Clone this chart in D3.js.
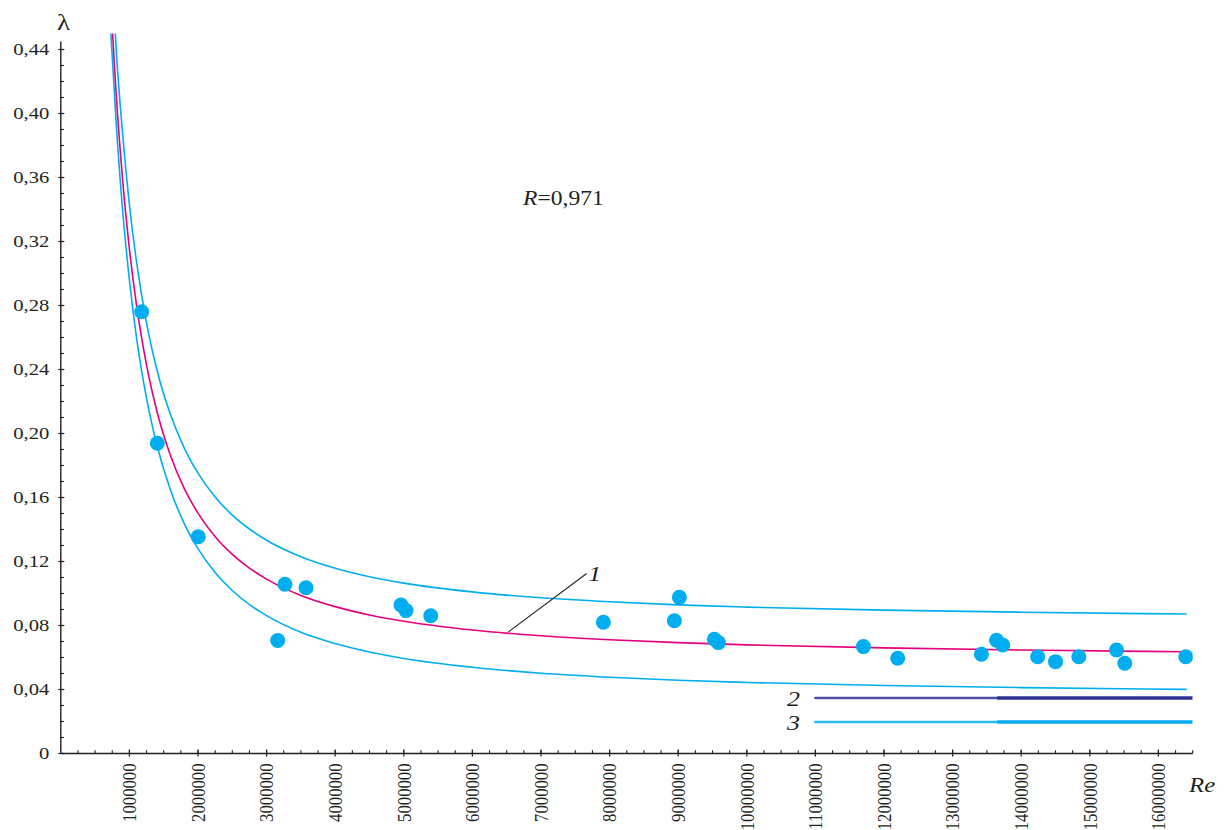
<!DOCTYPE html>
<html>
<head>
<meta charset="utf-8">
<script src="https://cdn.jsdelivr.net/npm/d3@7"></script>
<style>
  html, body { margin: 0; padding: 0; background: #fff; }
  svg { display: block; }
  text { font-family: "Liberation Serif", "Times New Roman", Tinos, serif; fill: #231F20; }
</style>
</head>
<body>
<svg id="chart" width="1226" height="830"></svg>
<script>
// ---------- data ----------
const xTickValues = [1e6,2e6,3e6,4e6,5e6,6e6,7e6,8e6,9e6,10e6,11e6,12e6,13e6,14e6,15e6,16e6];
const xTickLabels = ["1000000","2000000","3000000","4000000","5000000","6000000","7000000","8000000",
                     "9000000","10000000","11000000","12000000","13000000","14000000","15000000","16000000"];
const yTickValues = [0,0.04,0.08,0.12,0.16,0.20,0.24,0.28,0.32,0.36,0.40,0.44];
const yTickLabels = ["0","0,04","0,08","0,12","0,16","0,20","0,24","0,28","0,32","0,36","0,40","0,44"];

// measured points (Re, lambda)
const pointsRe = [1179000,1407000,2004000,3162000,3268000,3574000,4959000,5032000,5392000,
                  7909000,8944000,9017000,9527000,9586000,11700000,12200000,13420000,13640000,
                  13730000,14240000,14500000,14840000,15390000,15510000,16400000];
const pointsLambda = [0.2761,0.1939,0.1355,0.0706,0.1058,0.1036,0.0928,0.0893,0.0861,
                      0.0820,0.0830,0.0976,0.0714,0.0693,0.0668,0.0595,0.0620,0.0708,
                      0.0678,0.0605,0.0574,0.0605,0.0647,0.0564,0.0605];

// curve 1 (regression) and the two band curves
const curveRe = [800000,900000,1000000,1100000,1250000,1400000,1600000,1800000,2000000,2250000,
                 2500000,2750000,3000000,3500000,4000000,4500000,5000000,6000000,7000000,8000000,
                 9000000,10000000,12000000,14000000,16410000];
const curveMainStartRe = 755000;
const curveMainLambda = [0.4170,0.3592,0.3154,0.2813,0.2427,0.2141,0.1861,0.1656,0.1502,0.1355,
                         0.1245,0.1159,0.1090,0.0988,0.0918,0.0866,0.0827,0.0772,0.0736,0.0711,
                         0.0693,0.0679,0.0660,0.0647,0.0636];
const curveUpperStartRe = 795000;
const curveUpperLambda = [0.446,0.388,0.343,0.3085,0.269,0.240,0.2117,0.1909,0.1752,0.1603,
                          0.149,0.1403,0.1333,0.123,0.1158,0.1105,0.1065,0.101,0.0973,0.0948,
                          0.0929,0.0915,0.0896,0.0883,0.0872];
const curveLowerStartRe = 730000;
const curveLowerLambda = [0.399,0.340,0.296,0.261,0.222,0.193,0.1645,0.1437,0.128,0.1131,
                          0.1019,0.0931,0.0862,0.0758,0.0687,0.0634,0.0594,0.0539,0.0502,0.0477,
                          0.0458,0.0444,0.0425,0.0412,0.0401];
const curveTopLambda = 0.450;

// reference lines 2 and 3
const refLineLambda = [0.0347, 0.0197];
const refLineRe = [11000000, 16500000];
const refLineSplit = 13650000;
const refLineLabels = ["2", "3"];

// ---------- layout ----------
const svg = d3.select("#chart");
const SX = 1.18; // horizontal stretch of glyphs in the reference
const x = d3.scaleLinear().domain([0, 16.5e6]).range([60.8, 1192.7]);
const y = d3.scaleLinear().domain([0, 0.445]).range([753.5, 41.5]);
const ink = "#231F20";
const cyan = "#00AEEF";
const magenta = "#E6007E";
const navy = "#2E3192";

svg.append("rect").attr("width",1226).attr("height",830).attr("fill","#fff");

svg.append("defs").append("clipPath").attr("id","plotclip")
  .append("rect").attr("x",0).attr("y",0).attr("width",x(16.5e6)).attr("height",830);

// ---------- axes ----------
const axes = svg.append("g");
axes.append("line").attr("x1",x(0)).attr("x2",x(16.5e6)).attr("y1",y(0)).attr("y2",y(0))
  .attr("stroke",ink).attr("stroke-width",1.4);
axes.append("line").attr("x1",x(0)).attr("x2",x(0)).attr("y1",y(0)).attr("y2",y(0.445))
  .attr("stroke",ink).attr("stroke-width",1.4);

const xMinor = d3.range(250000, 16.5e6 + 1, 250000);
axes.selectAll(".xminor").data(xMinor).enter().append("line")
  .attr("x1",d=>x(d)).attr("x2",d=>x(d))
  .attr("y1",y(0)-3.2).attr("y2",y(0))
  .attr("stroke",ink).attr("stroke-width",1.1);
axes.selectAll(".xmajor").data(xTickValues).enter().append("line")
  .attr("x1",d=>x(d)).attr("x2",d=>x(d))
  .attr("y1",y(0)-4).attr("y2",y(0)+3)
  .attr("stroke",ink).attr("stroke-width",1.2);

const yMinor = d3.range(1, 45).map(i => i / 100);
axes.selectAll(".yminor").data(yMinor).enter().append("line")
  .attr("x1",x(0)).attr("x2",x(0)+3.2)
  .attr("y1",d=>y(d)).attr("y2",d=>y(d))
  .attr("stroke",ink).attr("stroke-width",1.1);
axes.selectAll(".ymajor").data(yTickValues).enter().append("line")
  .attr("x1",x(0)-2.5).attr("x2",x(0)+3.5)
  .attr("y1",d=>y(d)).attr("y2",d=>y(d))
  .attr("stroke",ink).attr("stroke-width",1.2);

axes.selectAll(".ylab").data(yTickValues).enter().append("text")
  .attr("transform",d=>`translate(${x(0)-11.5},${y(d)}) scale(${SX},1)`)
  .attr("text-anchor","end").attr("dy","0.33em")
  .attr("font-size",17.5)
  .text((d,i)=>yTickLabels[i]);

axes.selectAll(".xlab").data(xTickValues).enter().append("text")
  .attr("transform",d=>`translate(${x(d)},${763.5}) scale(${SX},1) rotate(-90)`)
  .attr("text-anchor","end").attr("dy","0.34em")
  .attr("font-size",16.7)
  .text((d,i)=>xTickLabels[i]);

svg.append("text").attr("transform",`translate(63.5,30) scale(${SX},1)`)
  .attr("text-anchor","middle").attr("font-size",23).text("λ");
svg.append("text").attr("transform",`translate(1189,792) scale(${SX},1)`)
  .attr("font-size",21).attr("font-style","italic").text("Re");

// ---------- curves ----------
const line = d3.line().x(d=>x(d[0])).y(d=>y(d[1])).curve(d3.curveMonotoneX);
const build = (startRe, lam) => [[startRe, curveTopLambda]].concat(curveRe.map((r,i)=>[r, lam[i]]));
svg.append("path").attr("d",line(build(curveUpperStartRe,curveUpperLambda)))
  .attr("fill","none").attr("stroke",cyan).attr("stroke-width",1.6);
svg.append("path").attr("d",line(build(curveLowerStartRe,curveLowerLambda)))
  .attr("fill","none").attr("stroke",cyan).attr("stroke-width",1.6);
svg.append("path").attr("d",line(build(curveMainStartRe,curveMainLambda)))
  .attr("fill","none").attr("stroke",magenta).attr("stroke-width",1.6);

// ---------- reference lines 2, 3 ----------
const refColors = [navy, cyan];
const refG = svg.append("g").attr("clip-path","url(#plotclip)");
refLineLambda.forEach((lv,i)=>{
  refG.append("line").attr("x1",x(refLineRe[0])).attr("x2",x(refLineSplit))
    .attr("y1",y(lv)).attr("y2",y(lv))
    .attr("stroke",refColors[i]).attr("stroke-width",2.6).attr("stroke-opacity",0.85)
    .attr("stroke-linecap","round");
  refG.append("line").attr("x1",x(refLineSplit)).attr("x2",x(refLineRe[1]))
    .attr("y1",y(lv)).attr("y2",y(lv))
    .attr("stroke",refColors[i]).attr("stroke-width",3.6);
  svg.append("text").attr("transform",`translate(${x(refLineRe[0])-22},${y(lv)+8}) scale(${SX},1)`)
    .attr("text-anchor","middle").attr("font-size",22).attr("font-style","italic")
    .text(refLineLabels[i]);
});

// ---------- points ----------
svg.append("g").attr("clip-path","url(#plotclip)")
  .selectAll("circle").data(pointsRe.map((r,i)=>[r, pointsLambda[i]])).enter().append("circle")
  .attr("cx",d=>x(d[0])).attr("cy",d=>y(d[1])).attr("r",7.5).attr("fill",cyan);

// ---------- annotations ----------
svg.append("line").attr("x1",x(6525000)).attr("y1",y(0.0760))
  .attr("x2",x(7666000)).attr("y2",y(0.1125))
  .attr("stroke",ink).attr("stroke-width",1.1);
svg.append("text").attr("transform",`translate(${x(7666000)+8},${y(0.1125)+7}) scale(${SX},1)`)
  .attr("text-anchor","middle").attr("font-size",22).attr("font-style","italic").text("1");

const rText = svg.append("text").attr("transform",`translate(523,205) scale(${SX},1)`)
  .attr("font-size",20);
rText.append("tspan").attr("font-style","italic").text("R");
rText.append("tspan").text("=0,971");
</script>
</body>
</html>
